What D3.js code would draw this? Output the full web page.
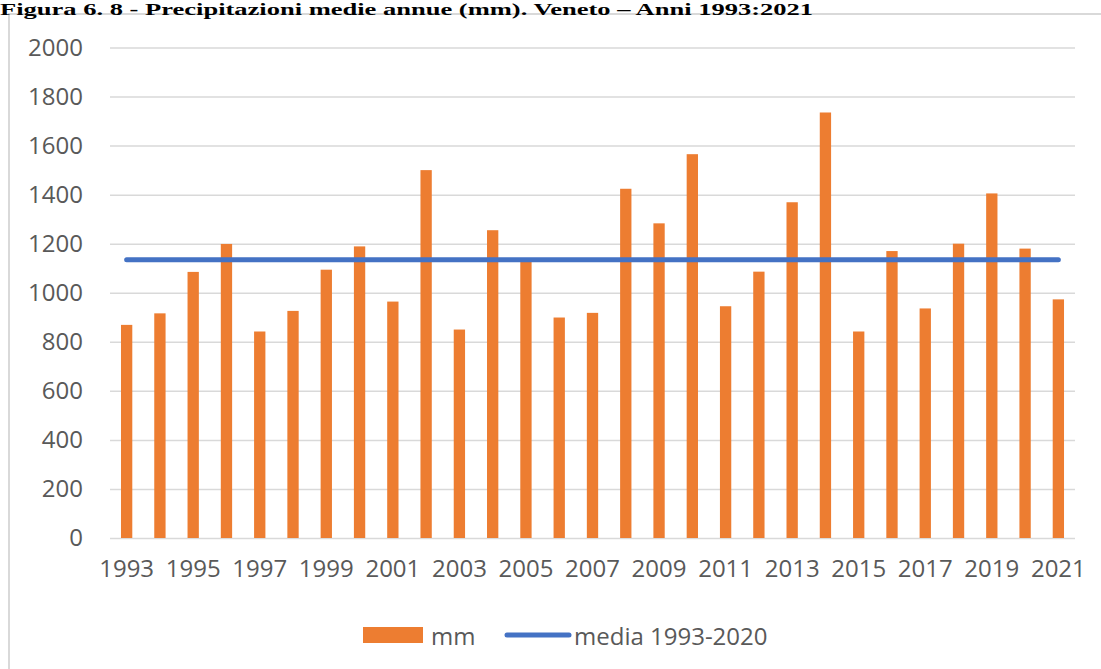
<!DOCTYPE html>
<html>
<head>
<meta charset="utf-8">
<script src="https://cdn.jsdelivr.net/npm/d3@7"></script>
<style>
  html, body { margin: 0; padding: 0; background: #fff; }
  svg { display: block; }
</style>
</head>
<body>
<svg id="chart" width="1101" height="669"></svg>
<script>
// Annual precipitation in Veneto (mm), 1993–2021
const years = [1993, 1994, 1995, 1996, 1997, 1998, 1999, 2000, 2001, 2002,
               2003, 2004, 2005, 2006, 2007, 2008, 2009, 2010, 2011, 2012,
               2013, 2014, 2015, 2016, 2017, 2018, 2019, 2020, 2021];
const mm = [869, 916, 1085, 1199, 842, 926, 1094, 1189, 964, 1500,
            850, 1255, 1130, 899, 918, 1424, 1283, 1565, 945, 1086,
            1369, 1735, 842, 1170, 936, 1200, 1405, 1180, 973];
// Reference average 1993–2020, drawn across every year
const media = years.map(() => 1135);
const yTicks = [0, 200, 400, 600, 800, 1000, 1200, 1400, 1600, 1800, 2000];
const xTickYears = years.filter((y, i) => i % 2 === 0);

const titleText = "Figura 6. 8 - Precipitazioni medie annue (mm). Veneto \u2013 Anni 1993:2021";
const seriesNames = ["mm", "media 1993-2020"];

const svg = d3.select("#chart");
const textColor = "#595959";
const gridColor = "#d9d9d9";
const barColor = "#ED7D31";
const lineColor = "#4472C4";
const labelFont = "'Open Sans', sans-serif";

// Chart frame
svg.append("rect")
  .attr("x", 9)
  .attr("y", 14)
  .attr("width", 1110)
  .attr("height", 680)
  .attr("fill", "#fff")
  .attr("stroke", gridColor)
  .attr("stroke-width", 2);

// Title above the chart frame
svg.append("text")
  .attr("x", 0)
  .attr("y", 14.5)
  .attr("font-family", "'Liberation Serif', 'Times New Roman', serif")
  .attr("font-weight", "bold")
  .attr("font-size", 16)
  .attr("textLength", 813)
  .attr("lengthAdjust", "spacingAndGlyphs")
  .attr("fill", "#000")
  .text(titleText);

const plot = { left: 110, right: 1075, top: 47.5, bottom: 538 };

const x = d3.scaleBand()
  .domain(years)
  .range([plot.left, plot.right])
  .paddingInner(0.66)
  .paddingOuter(0.33);

const y = d3.scaleLinear()
  .domain([0, 2000])
  .range([plot.bottom, plot.top]);

// Horizontal gridlines and y labels
const yAxis = d3.axisLeft(y)
  .tickValues(yTicks)
  .tickSize(-(plot.right - plot.left))
  .tickPadding(27)
  .tickFormat(d3.format("d"));

const gy = svg.append("g")
  .attr("transform", `translate(${plot.left},0)`)
  .call(yAxis);
gy.select(".domain").remove();
gy.selectAll(".tick line")
  .attr("stroke", gridColor)
  .attr("stroke-width", 1.5);
gy.selectAll(".tick text")
  .attr("fill", textColor)
  .attr("font-family", labelFont)
  .attr("font-size", 24);

// X labels (every other year)
const xAxis = d3.axisBottom(x)
  .tickValues(xTickYears)
  .tickSize(0)
  .tickPadding(22);
const gx = svg.append("g")
  .attr("transform", `translate(0,${plot.bottom})`)
  .call(xAxis);
gx.select(".domain").remove();
gx.selectAll(".tick text")
  .attr("fill", textColor)
  .attr("font-family", labelFont)
  .attr("font-size", 24);

// Bars
svg.append("g")
  .selectAll("rect")
  .data(years.map((yr, i) => ({ yr, v: mm[i] })))
  .join("rect")
  .attr("x", d => x(d.yr))
  .attr("width", x.bandwidth())
  .attr("y", d => y(d.v))
  .attr("height", d => y(0) - y(d.v))
  .attr("fill", barColor);

// Average line
const line = d3.line()
  .x((d, i) => x(years[i]) + x.bandwidth() / 2)
  .y(d => y(d));
svg.append("path")
  .datum(media)
  .attr("d", line)
  .attr("fill", "none")
  .attr("stroke", lineColor)
  .attr("stroke-width", 5)
  .attr("stroke-linecap", "round");

// Legend
const legend = svg.append("g").attr("font-family", labelFont).attr("font-size", 24).attr("fill", textColor);
legend.append("rect")
  .attr("x", 363).attr("y", 627).attr("width", 60).attr("height", 16)
  .attr("fill", barColor);
legend.append("text")
  .attr("x", 431).attr("y", 635).attr("dominant-baseline", "central")
  .text(seriesNames[0]);
legend.append("line")
  .attr("x1", 507).attr("x2", 569).attr("y1", 635).attr("y2", 635)
  .attr("stroke", lineColor).attr("stroke-width", 5).attr("stroke-linecap", "round");
legend.append("text")
  .attr("x", 574).attr("y", 635).attr("dominant-baseline", "central")
  .text(seriesNames[1]);
</script>
</body>
</html>
